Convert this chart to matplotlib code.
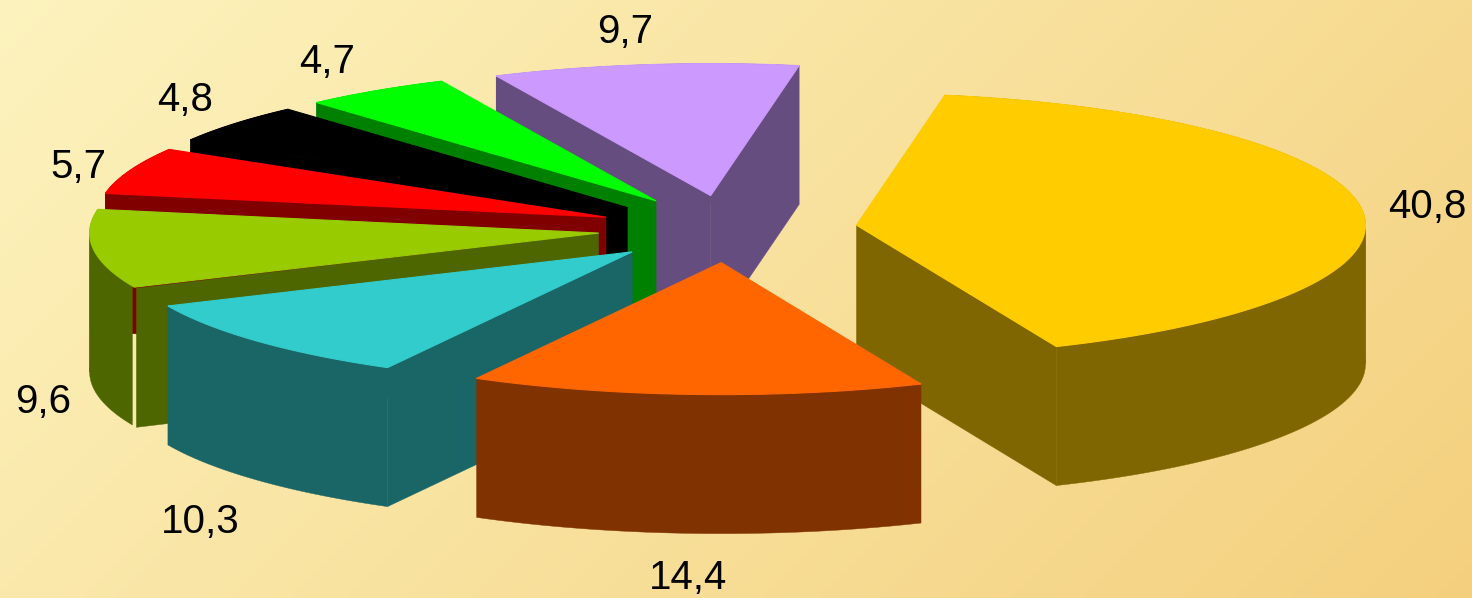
import numpy as np
import matplotlib
matplotlib.use("Agg")
import matplotlib.pyplot as plt

values = [40.8, 14.4, 10.3, 9.6, 5.7, 4.8, 4.7, 9.7]
top_colors = ["#FFCC00", "#FF6600", "#33CCCC", "#99CC00", "#FF0000", "#000000", "#00FF00", "#CC99FF"]
side_colors = ["#806600", "#803300", "#1A6666", "#4D6600", "#800000", "#000000", "#008000", "#664D80"]
label_pos = [(1427, 207), (688, 578), (200, 522), (43, 402), (78, 167), (185, 100), (327, 62), (625, 32)]
draw_order = [7, 0, 6, 5, 4, 3, 2, 1]

start_angle: float = 80.0
center_x: float = 727.5
center_y: float = 229.0
radius_x: float = 509.0
radius_y: float = 132.0
explode: float = 0.255
depth: float = 139.0


def project(angle, r, apex_x, apex_y):
    rad = np.radians(angle)
    return apex_x + radius_x * r * np.cos(rad), apex_y - radius_y * r * np.sin(rad)


def draw_wall(ax, a_high, a_low, apex_x, apex_y, side):
    # cut the wall at the left and right extremes, so no polygon folds over itself
    cuts = [a for a in (-360, -180, 0, 180) if a_low < a < a_high]
    stops = [a_high] + sorted(cuts, reverse=True) + [a_low]
    for a, b in zip(stops[:-1], stops[1:]):
        t = np.linspace(a, b, 100)
        x, y = project(t, 1.0, apex_x, apex_y)
        ax.fill(np.r_[x, x[::-1]], np.r_[y, y[::-1] + depth], color=side, lw=0.3)


def draw_slice(ax, a_high, a_low, top, side, slit=0.0):
    mid = (a_high + a_low) / 2
    apex_x, apex_y = project(mid, explode, center_x, center_y)

    # sides first, the top face goes over them
    draw_wall(ax, a_high - slit, a_low, apex_x, apex_y, side)
    # a cut face is only drawn when its outward normal points at the viewer
    for angle, normal in ((a_high + slit, a_high + 90), (a_low, a_low - 90)):
        if np.sin(np.radians(normal)) >= 0:
            continue
        edge_x, edge_y = project(angle, 1.0, apex_x, apex_y)
        ax.fill([apex_x, edge_x, edge_x, apex_x],
                [apex_y, edge_y, edge_y + depth, apex_y + depth], color=side, lw=0.3)

    arc_x, arc_y = project(np.linspace(a_high, a_low, 300), 1.0, apex_x, apex_y)
    ax.fill(np.r_[apex_x, arc_x], np.r_[apex_y, arc_y], color=top, lw=0.8)


fig = plt.figure(figsize=(14.72, 5.98), dpi=100)
ax = fig.add_axes([0, 0, 1, 1])
ax.set_xlim(0, 1472)
ax.set_ylim(598, 0)
ax.axis("off")

# diagonal background gradient
corner_light = np.array([253, 243, 190]) / 255
corner_dark = np.array([244, 208, 126]) / 255
grid_x, grid_y = np.meshgrid(np.linspace(0, 1, 368), np.linspace(0, 1, 150))
mix = ((grid_x * 1472 + grid_y * 598) / (1472 + 598))[..., None]
ax.imshow(corner_light + (corner_dark - corner_light) * mix,
          extent=(0, 1472, 598, 0), aspect="auto", zorder=0)

spans = 360 * np.array(values) / sum(values)
ends = start_angle - np.cumsum(spans)
starts = ends + spans

for i in draw_order:
    # the fourth slice has a thin slit between its wall and its cut face
    slit = 0.55 if i == 3 else 0.0
    draw_slice(ax, starts[i], ends[i], top_colors[i], side_colors[i], slit)

for value, pos in zip(values, label_pos):
    ax.text(pos[0], pos[1], str(value).replace(".", ","), ha="center", va="center",
            fontsize=29, family="Liberation Sans", color="black")

fig.savefig("out.png", dpi=100)
